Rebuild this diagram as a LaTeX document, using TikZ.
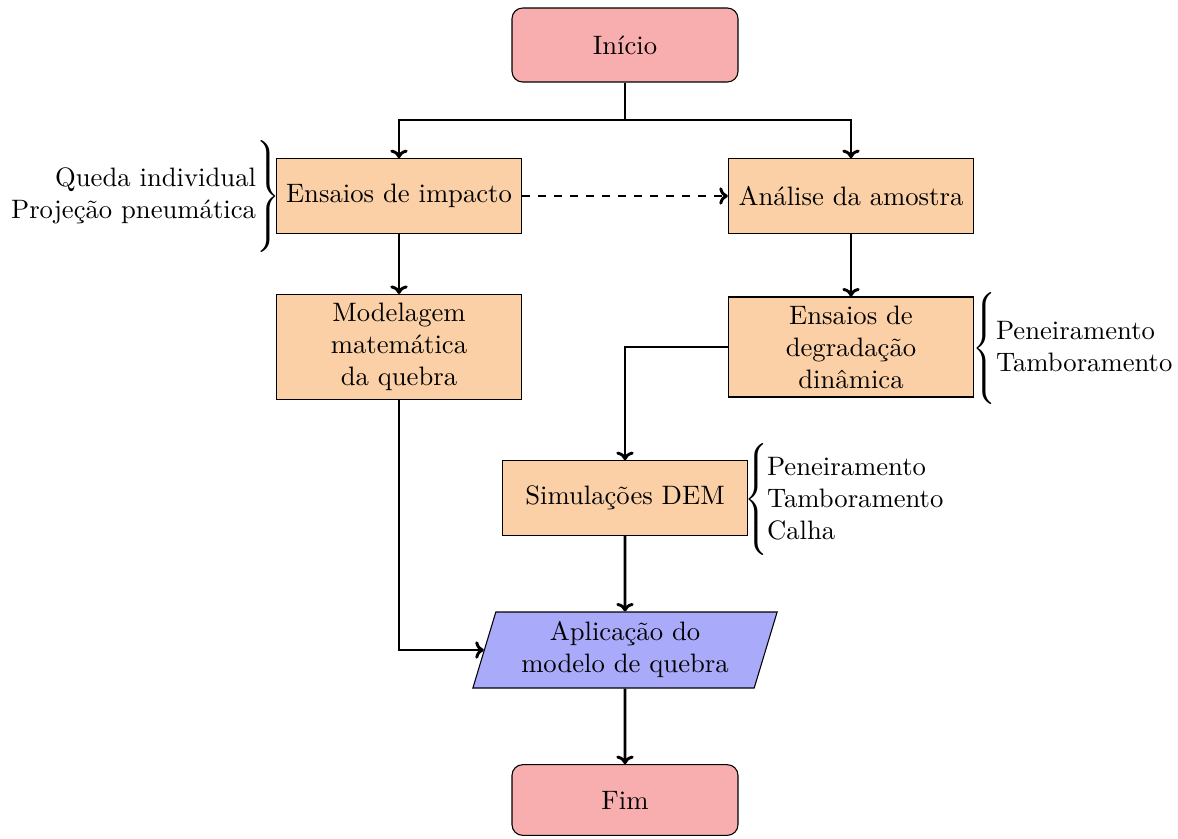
\documentclass[tikz,border=0pt]{standalone}
\usetikzlibrary{shapes.geometric,arrows.meta}
\definecolor{startfill}{RGB}{248,173,175}
\definecolor{procfill}{RGB}{251,208,166}
\definecolor{iofill}{RGB}{170,170,250}
\begin{document}
\begin{tikzpicture}[x=0.375pt,y=-0.375pt,
  startstop/.style={rectangle, rounded corners=4pt, draw, line width=0.4pt,
    fill=startfill, minimum width=84.75pt, minimum height=27.75pt, align=center},
  procbox/.style={rectangle, draw, line width=0.4pt, fill=procfill,
    minimum width=92pt, minimum height=28pt, inner ysep=1pt, align=center},
  iobox/.style={trapezium, trapezium left angle=72, trapezium right angle=108,
    trapezium stretches=true, draw, line width=0.4pt, fill=iofill,
    minimum width=114.75pt, minimum height=28.5pt, inner ysep=1pt, align=center},
  flow/.style={line width=1.1pt, -{To[length=3.2pt,width=6.5pt]}},
  plain/.style={line width=1.1pt},
  bracenode/.style={inner sep=0pt, outer sep=0pt,
    execute at begin node={\nulldelimiterspace=0pt}},
  notes/.style={inner sep=0pt, outer sep=0pt}]
\useasboundingbox (0,0) rectangle (1178,838);

% main flow
\node[startstop] (ini) at (625,45) {Início};
\node[procbox] (imp) at (399,196) {Ensaios de impacto};
\node[procbox] (ana) at (851,196) {Análise da amostra};
\node[procbox, minimum height=39.4pt] (mod) at (399,347) {Modelagem\\matemática\\da quebra};
\node[procbox, minimum height=37.5pt] (deg) at (851,347) {Ensaios de\\degradação\\dinâmica};
\node[procbox] (dem) at (625,498) {Simulações DEM};
\node[iobox] (apl) at (625,650) {Aplicação do\\modelo de quebra};
\node[startstop, minimum height=26.5pt] (fim) at (625,800) {Fim};

% side notes with braces
\node[bracenode] (bimp) at (268,196) {$\left.\vcenter{\hbox{\rule{0pt}{42pt}}}\right\}$};
\node[notes, anchor=east, align=right] (timp) at (256,196) {Queda individual\\Projeção pneumática};
\node[bracenode] (bdeg) at (984,348) {$\left\{\vcenter{\hbox{\rule{0pt}{42pt}}}\right.$};
\node[notes, anchor=west, align=left] (tdeg) at (996,347) {Peneiramento\\Tamboramento};
\node[bracenode] (bdem) at (756,499) {$\left\{\vcenter{\hbox{\rule{0pt}{42pt}}}\right.$};
\node[notes, anchor=west, align=left] (tdem) at (767,499) {Peneiramento\\Tamboramento\\Calha};

% connectors
\coordinate (split) at (625,120);
\draw[plain] (ini.south) -- (split);
\draw[flow] (split) -| (imp.north);
\draw[flow] (split) -| (ana.north);
\draw[flow, dashed] (imp.east) -- (ana.west);
\draw[flow] (imp.south) -- (mod.north);
\draw[flow] (ana.south) -- (deg.north);
\draw[flow] (deg.west) -| (dem.north);
\draw[flow] (dem.south) -- (apl.north);
\draw[flow] (mod.south) |- (apl.west);
\draw[flow] (apl.south) -- (fim.north);
\end{tikzpicture}
\end{document}
